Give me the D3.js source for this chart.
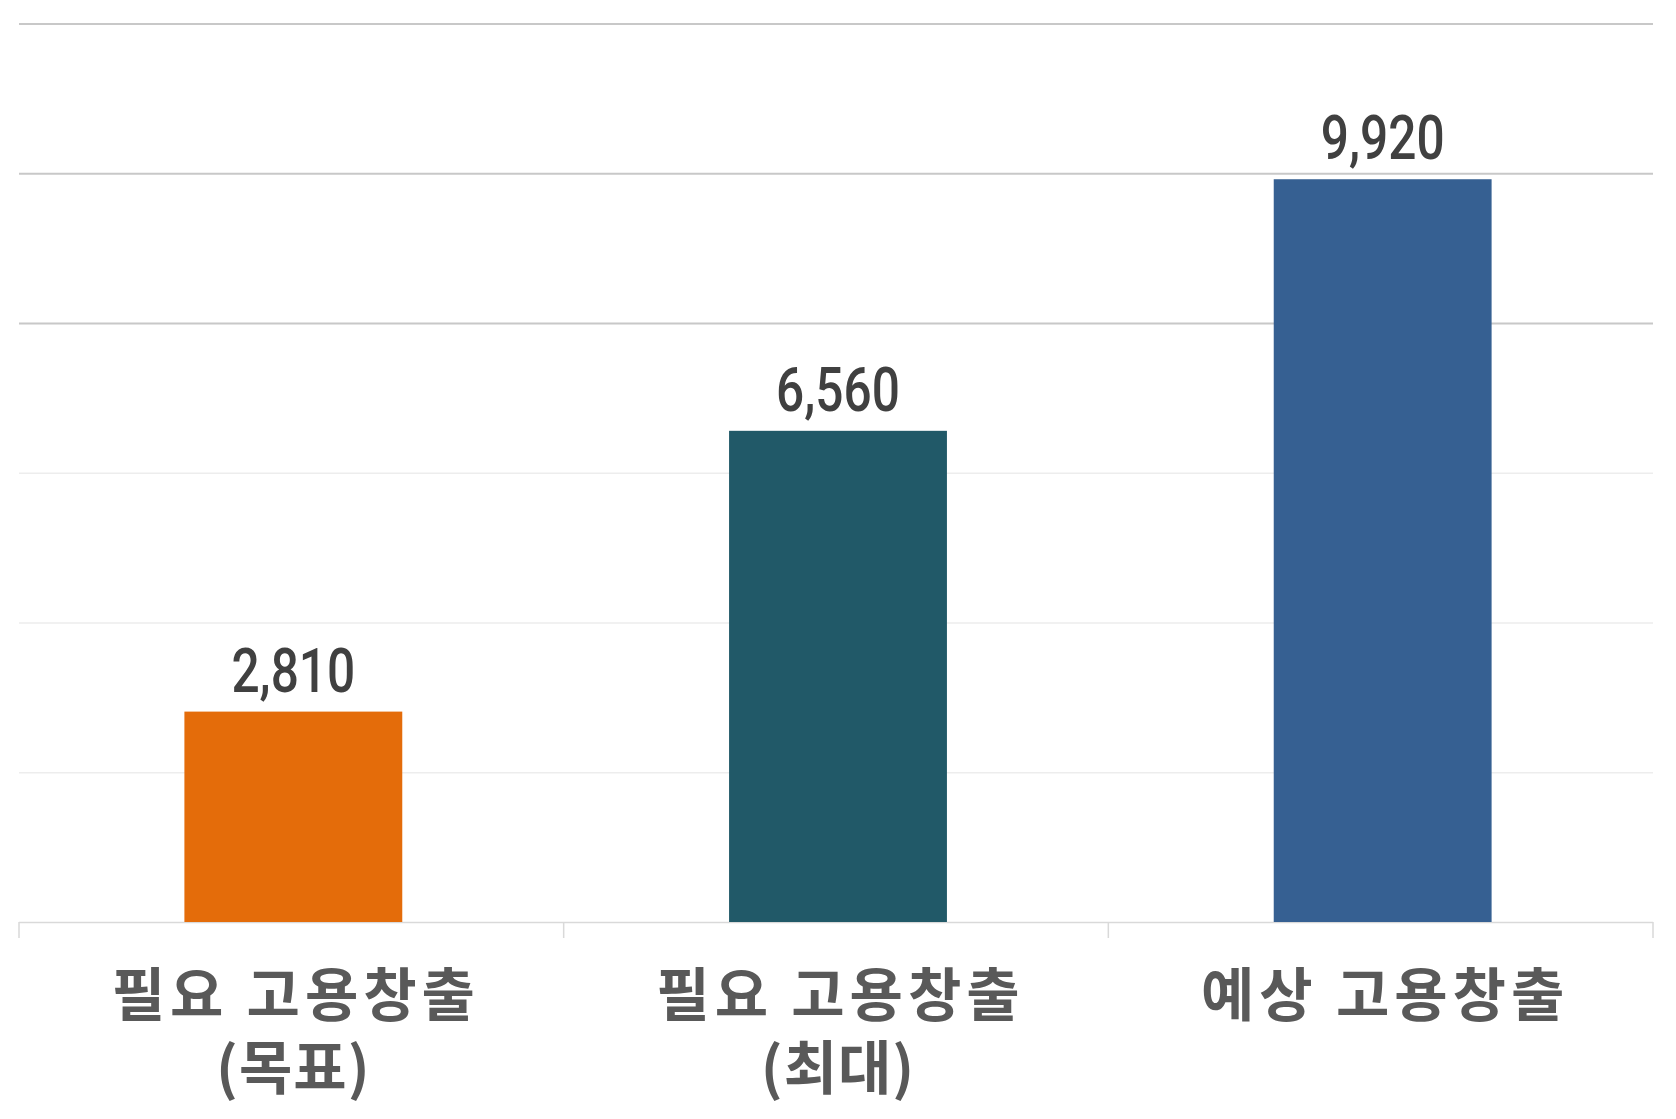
<!DOCTYPE html>
<html>
<head>
<meta charset="utf-8">
<script src="https://cdn.jsdelivr.net/npm/d3@7"></script>
<style>
  body { margin: 0; background: #fff; }
</style>
</head>
<body>
<div id="chart"></div>
<script>
// chart values
var categories = ["필요 고용창출 (목표)", "필요 고용창출 (최대)", "예상 고용창출"];
var categoryLines = [["필요 고용창출", "(목표)"], ["필요 고용창출", "(최대)"], ["예상 고용창출"]];
var values = [2810, 6560, 9920];
var barColors = ["#e46c0a", "#215968", "#366092"];
var yTicks = [0, 2000, 4000, 6000, 8000, 10000, 12000];

var width = 1676, height = 1119;
var margin = {top: 23.5, right: 23, bottom: 197, left: 19};
var plotW = width - margin.left - margin.right,
    plotH = height - margin.top - margin.bottom;

var svg = d3.select("#chart")
  .append("svg")
  .attr("width", width)
  .attr("height", height);

var chartgroup = svg.append("g")
  .attr("transform", "translate(" + margin.left + "," + margin.top + ")");

var x = d3.scaleBand()
  .domain(categories)
  .range([0, plotW])
  .paddingInner(0.6)
  .paddingOuter(0.3);

var y = d3.scaleLinear()
  .domain([0, 12000])
  .range([plotH, 0]);

// gridlines (upper ones are drawn darker in the original)
var grid = chartgroup.append("g")
  .call(d3.axisLeft(y).tickValues(yTicks).tickSize(-plotW).tickFormat(""));
grid.select(".domain").remove();
grid.selectAll(".tick line")
  .attr("stroke", d => d >= 8000 ? "#c8c8c8" : (d === 0 ? "#d9d9d9" : "#ededed"))
  .attr("stroke-width", d => d >= 8000 ? 2 : 1.6);

// category separators under the baseline
var step = x.step();
var sepX = d3.range(categories.length + 1).map(i => i * step);
chartgroup.append("g")
  .selectAll("line")
  .data(sepX)
  .enter()
  .append("line")
  .attr("x1", d => d)
  .attr("x2", d => d)
  .attr("y1", plotH)
  .attr("y2", plotH + 16)
  .attr("stroke", "#d9d9d9")
  .attr("stroke-width", 1.5);

// bars
chartgroup.append("g")
  .selectAll("rect")
  .data(values)
  .enter()
  .append("rect")
  .attr("x", (d, i) => x(categories[i]) + 2)
  .attr("y", d => y(d))
  .attr("width", x.bandwidth())
  .attr("height", d => plotH - y(d))
  .attr("fill", (d, i) => barColors[i]);

// value labels (condensed look: squeeze horizontally)
chartgroup.append("g")
  .selectAll("text")
  .data(values)
  .enter()
  .append("text")
  .attr("transform", (d, i) => "translate(" + (x(categories[i]) + 2 + x.bandwidth() / 2) + "," + (y(d) - 20) + ") scale(0.8,1)")
  .attr("text-anchor", "middle")
  .style("font-family", "Roboto, 'Liberation Sans', sans-serif")
  .style("font-weight", "500")
  .style("font-size", "62px")
  .style("fill", "#404040")
  .text(d => d3.format(",")(d));

// category labels, one text per line
var lineData = [];
categoryLines.forEach(function(lines, i) {
  lines.forEach(function(t, j) { lineData.push({t: t, i: i, j: j}); });
});

chartgroup.append("g")
  .selectAll("text")
  .data(lineData)
  .enter()
  .append("text")
  .attr("x", d => x(categories[d.i]) + x.bandwidth() / 2 + (d.j === 0 ? 4.5 : 2))
  .attr("y", d => plotH + 94 + d.j * 73)
  .attr("text-anchor", "middle")
  .style("font-family", "'Noto Sans CJK KR', 'Noto Sans', sans-serif")
  .style("font-weight", "bold")
  .style("font-size", "58px")
  .style("letter-spacing", d => d.j === 0 ? "5px" : "1px")
  .style("fill", "#595959")
  .text(d => d.t);
</script>
</body>
</html>
